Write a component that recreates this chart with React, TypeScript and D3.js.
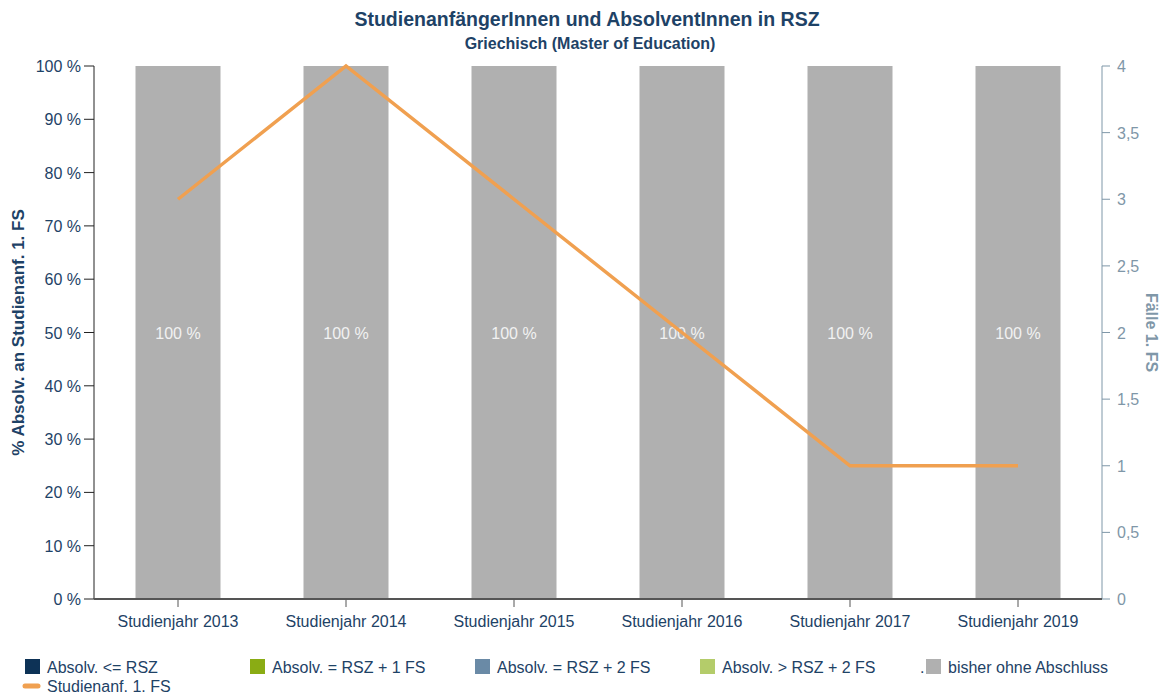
import React from 'react';
import * as d3 from 'd3';

const years = ['Studienjahr 2013', 'Studienjahr 2014', 'Studienjahr 2015', 'Studienjahr 2016', 'Studienjahr 2017', 'Studienjahr 2019'];
const ohneAbschluss = [100, 100, 100, 100, 100, 100];
const studienanfaenger = [3, 4, 3, 2, 1, 1];
const leftTicks = [0, 10, 20, 30, 40, 50, 60, 70, 80, 90, 100];
const rightTicks = [0, 0.5, 1, 1.5, 2, 2.5, 3, 3.5, 4];

const legendItems = [
  { label: 'Absolv. <= RSZ', color: '#0d3256', x: 28 },
  { label: 'Absolv. = RSZ + 1 FS', color: '#8aac14', x: 253 },
  { label: 'Absolv. = RSZ + 2 FS', color: '#6a8aa6', x: 478 },
  { label: 'Absolv.  > RSZ + 2 FS', color: '#b4cc6a', x: 703 },
  { label: 'bisher ohne Abschluss', color: '#b0b0b0', x: 929 },
];

const textColor = '#1e4266';
const rightColor = '#7f97a8';

export default function App() {
  const width = 1165;
  const height = 698;
  const left = 94;
  const right = 1102;
  const top = 66;
  const bottom = 599;

  const x = d3.scaleBand().domain(years).range([left, right]).paddingInner(0.494).paddingOuter(0.247);
  const yL = d3.scaleLinear().domain([0, 100]).range([bottom, top]);
  const yR = d3.scaleLinear().domain([0, 4]).range([bottom, top]);

  const line = d3
    .line<number>()
    .x((d, i) => (x(years[i]) as number) + x.bandwidth() / 2)
    .y(d => yR(d));

  const fmt = (v: number) => String(v).replace('.', ',');

  return (
    <svg width={width} height={height} style={{ position: 'absolute', left: 0, top: 0 }} fontFamily="'Liberation Sans', Arial, sans-serif">
      <text x={587} y={26} textAnchor="middle" fontSize={19.5} fontWeight="bold" fill={textColor}>
        StudienanfängerInnen und AbsolventInnen in RSZ
      </text>
      <text x={590} y={49} textAnchor="middle" fontSize={16} fontWeight="bold" fill={textColor}>
        Griechisch (Master of Education)
      </text>

      {years.map((yr, i) => (
        <g key={yr}>
          <rect
            x={x(yr)}
            y={yL(ohneAbschluss[i])}
            width={x.bandwidth()}
            height={bottom - yL(ohneAbschluss[i])}
            fill="#b0b0b0"
          />
          <text
            x={(x(yr) as number) + x.bandwidth() / 2}
            y={yL(ohneAbschluss[i] / 2) + 6}
            textAnchor="middle"
            fontSize={16}
            fill="#f2f2f2"
          >
            {ohneAbschluss[i]} %
          </text>
        </g>
      ))}

      <path d={line(studienanfaenger) || ''} fill="none" stroke="#f0a050" strokeWidth={3.5} />

      {/* left axis */}
      <line x1={left} x2={left} y1={top} y2={bottom} stroke="#222" strokeWidth={1} />
      {leftTicks.map(t => (
        <g key={t}>
          <line x1={left - 10} x2={left} y1={yL(t)} y2={yL(t)} stroke="#222" />
          <text x={left - 13} y={yL(t) + 6} textAnchor="end" fontSize={16} fill={textColor}>
            {t} %
          </text>
        </g>
      ))}
      <text
        transform={`translate(24,${(top + bottom) / 2}) rotate(-90)`}
        textAnchor="middle"
        fontSize={17}
        fontWeight="bold"
        fill={textColor}
      >
        % Absolv. an Studienanf. 1. FS
      </text>

      {/* right axis */}
      <line x1={right} x2={right} y1={top} y2={bottom} stroke={rightColor} strokeWidth={1} />
      {rightTicks.map(t => (
        <g key={t}>
          <line x1={right} x2={right + 8} y1={yR(t)} y2={yR(t)} stroke={rightColor} />
          <text x={right + 15} y={yR(t) + 6} fontSize={16} fill={rightColor}>
            {fmt(t)}
          </text>
        </g>
      ))}
      <text
        transform={`translate(1146,${(top + bottom) / 2}) rotate(90)`}
        textAnchor="middle"
        fontSize={16}
        fontWeight="bold"
        fill={rightColor}
      >
        Fälle 1. FS
      </text>

      {/* bottom axis */}
      <line x1={left} x2={right} y1={bottom} y2={bottom} stroke="#555" strokeWidth={2} />
      {years.map(yr => {
        const cx = (x(yr) as number) + x.bandwidth() / 2;
        return (
          <g key={yr}>
            <line x1={cx} x2={cx} y1={bottom} y2={bottom + 8} stroke="#555" />
            <text x={cx} y={bottom + 28} textAnchor="middle" fontSize={16} fill={textColor}>
              {yr}
            </text>
          </g>
        );
      })}

      {/* legend */}
      {legendItems.map((it, i) => (
        <g key={it.label}>
          {i === legendItems.length - 1 && (
            <text x={it.x - 9} y={673} fontSize={16} fill={textColor}>.</text>
          )}
          <rect x={it.x - 3} y={659} width={15} height={15} fill={it.color} />
          <text x={it.x + 19} y={673} fontSize={16} fill={textColor}>
            {it.label}
          </text>
        </g>
      ))}
      <line x1={25} x2={38} y1={686} y2={686} stroke="#f0a050" strokeWidth={5} strokeLinecap="round" />
      <text x={47} y={692} fontSize={16} fill={textColor}>
        Studienanf. 1. FS
      </text>
    </svg>
  );
}
